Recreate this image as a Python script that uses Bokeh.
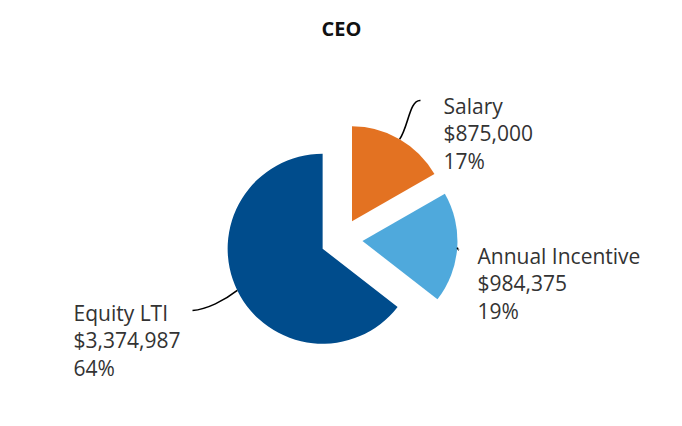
import math
from bokeh.plotting import figure
from bokeh.models import Range1d, ColumnDataSource, Label
from bokeh.core.properties import value
from bokeh.embed import file_html
from bokeh.resources import INLINE

# ---- data ----
title_text = "CEO"
categories = ["Salary", "Annual Incentive", "Equity LTI"]
amounts = [875000, 984375, 3374987]
colors = ["#E37222", "#4FA9DC", "#004C8C"]

# ---- layout (page pixel coordinates, converted below) ----
W, H = 666, 410
def Y(py):
    return 418 - py

cx, cy = 341, Y(239)
radius = 95
explode = 21
label_pos = [(443, 105), (477, 255), (73, 312)]   # first-line baseline
line_gap = 27.5
leader_end = [(420, 100), (458, 249), (192, 310)]
leader_c0 = [(408, 126), (458, 250), (224, 300)]
leader_c1 = [(409, 99), (458, 249), (206, 309)]

p = figure(width=W, height=H, output_backend="svg", toolbar_location=None,
           x_range=Range1d(0, W), y_range=Range1d(Y(H), Y(0)),
           min_border=0)
p.axis.visible = False
p.grid.visible = False
p.outline_line_color = None
p.background_fill_color = "white"

total = sum(amounts)
starts, ends, xs, ys, mids = [], [], [], [], []
a = 90.0
for v in amounts:
    sweep = 360.0 * v / total
    start = a - sweep
    mid = math.radians(a - sweep / 2)
    starts.append(math.radians(start))
    ends.append(math.radians(a))
    mids.append(mid)
    xs.append(cx + explode * math.cos(mid))
    ys.append(cy + explode * math.sin(mid))
    a = start

src = ColumnDataSource(dict(x=xs, y=ys, s=starts, e=ends, c=colors))
p.wedge(x="x", y="y", radius=radius, start_angle="s", end_angle="e",
        fill_color="c", line_color=None, source=src)

# leader lines
bx0, by0, bx1, by1, c0x, c0y, c1x, c1y = [], [], [], [], [], [], [], []
for i, m in enumerate(mids):
    bx0.append(xs[i] + radius * math.cos(m))
    by0.append(ys[i] + radius * math.sin(m))
    bx1.append(leader_end[i][0]); by1.append(Y(leader_end[i][1]))
    c0x.append(leader_c0[i][0]); c0y.append(Y(leader_c0[i][1]))
    c1x.append(leader_c1[i][0]); c1y.append(Y(leader_c1[i][1]))
p.bezier(x0=bx0, y0=by0, x1=bx1, y1=by1, cx0=c0x, cy0=c0y, cx1=c1x, cy1=c1y,
         line_color="black", line_width=1.6)

# labels
tx, ty, tt = [], [], []
for i, name in enumerate(categories):
    lines = [name, "${:,}".format(amounts[i]), "{:.0f}%".format(100.0 * amounts[i] / total)]
    for j, t in enumerate(lines):
        tx.append(label_pos[i][0])
        ty.append(Y(label_pos[i][1] + j * line_gap))
        tt.append(t)
p.text(x=tx, y=ty, text=tt, text_font=value("Open Sans"), text_font_size="21px",
       text_color="#333333", text_baseline="alphabetic", text_align="left")

p.add_layout(Label(x=341, y=Y(28), text=title_text, text_font="Open Sans",
                   text_font_style="bold", text_font_size="20px", text_color="#111111",
                   text_align="center", text_baseline="alphabetic"))

open("out.html", "w").write(file_html(p, INLINE))
